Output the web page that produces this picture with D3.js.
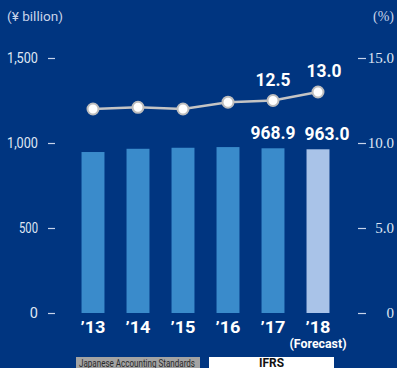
<!DOCTYPE html>
<html><head><meta charset="utf-8">
<script src="https://cdn.jsdelivr.net/npm/d3@7"></script>
<style>
html,body{margin:0;padding:0;background:#003580;}
svg{display:block;}
</style></head>
<body>
<script>
const years = ["’13","’14","’15","’16","’17","’18"];
const revenue = [947, 966, 972, 976, 968.9, 963.0];
const margin = [12.0, 12.1, 12.0, 12.4, 12.5, 13.0];
const leftTicks = [0, 500, 1000, 1500];
const rightTicks = [0, 5, 10, 15];
const revenueLabels = ["", "", "", "", "968.9", "963.0"];
const marginLabels = ["", "", "", "", "12.5", "13.0"];

const W = 397, H = 368;
const font = "Roboto,'Liberation Sans',sans-serif";
const svg = d3.select("body").append("svg").attr("width", W).attr("height", H);
svg.append("rect").attr("width", W).attr("height", H).attr("fill", "#003580");

const x = d3.scaleBand().domain(years).range([70.5, 340.5]).paddingInner(0.49).paddingOuter(0.245);
const yL = d3.scaleLinear().domain([0, 1500]).range([313, 58]);
const yR = d3.scaleLinear().domain([0, 15]).range([313, 58]);

// left axis
const la = svg.append("g").attr("transform", "translate(55,0)")
  .call(d3.axisLeft(yL).tickValues(leftTicks).tickSize(7).tickPadding(10).tickFormat(d3.format(",")));
la.select(".domain").remove();
la.selectAll("line").attr("stroke", "#c8d4ea").attr("stroke-width", 1.2);
la.selectAll("text").attr("fill", "#dfe6f3").style("font-family", font).style("font-size", "14.5px")
  .each(function(d){ const s = d3.format(",")(d); if (s.length > 1) d3.select(this).attr("textLength", s.length === 3 ? 19 : 31).attr("lengthAdjust","spacingAndGlyphs"); });

// right axis
const ra = svg.append("g").attr("transform", "translate(358,0)")
  .call(d3.axisRight(yR).tickValues(rightTicks).tickSize(8).tickPadding(5).tickFormat(d => d === 0 ? "0" : d3.format(".1f")(d)));
ra.select(".domain").remove();
ra.selectAll("line").attr("stroke", "#c8d4ea").attr("stroke-width", 1.2);
ra.selectAll("text").attr("fill", "#dfe6f3").style("font-family", "'Liberation Serif','DejaVu Serif',serif").style("font-size", "15px").attr("text-anchor","end").attr("x", 36);

svg.append("text").attr("x", 7).attr("y", 21).text("(¥ billion)")
  .attr("textLength", 56).attr("lengthAdjust", "spacingAndGlyphs")
  .attr("fill", "#c8d4ea").style("font-family", font).style("font-size", "13px");
svg.append("text").attr("x", 394).attr("y", 21).attr("text-anchor", "end").text("(%)")
  .attr("fill", "#c8d4ea").style("font-family", "'Liberation Serif',serif").style("font-size", "14px");

// bars
svg.selectAll("rect.bar").data(revenue).enter().append("rect").attr("class", "bar")
  .attr("x", (d, i) => x(years[i])).attr("width", x.bandwidth())
  .attr("y", d => yL(d)).attr("height", d => yL(0) - yL(d))
  .attr("fill", (d, i) => i === 5 ? "#a9c3e8" : "#3a8bcb");

const cx = i => x(years[i]) + x.bandwidth() / 2;

// bar labels
revenue.forEach((d, i) => {
  if (!revenueLabels[i]) return;
  svg.append("text").attr("x", cx(i) + (i === 5 ? 9 : 0)).attr("y", yL(d) - 9).attr("text-anchor", "middle")
    .text(revenueLabels[i]).attr("textLength", 45).attr("lengthAdjust", "spacingAndGlyphs")
    .attr("fill", "#fff").style("font-family", font).style("font-weight", "bold").style("font-size", "18px");
});

// line
svg.append("path").datum(margin)
  .attr("d", d3.line().x((d, i) => cx(i)).y(d => yR(d)))
  .attr("fill", "none").attr("stroke", "#c4c4c4").attr("stroke-width", 2.5);
svg.selectAll("circle").data(margin).enter().append("circle")
  .attr("cx", (d, i) => cx(i)).attr("cy", d => yR(d)).attr("r", 5.5)
  .attr("fill", "#fff").attr("stroke", "#bdbdbd").attr("stroke-width", 2);
margin.forEach((d, i) => {
  if (marginLabels[i]) svg.append("text").attr("x", cx(i) + (i === 5 ? 6 : 0)).attr("y", yR(d) - 15)
    .attr("text-anchor", "middle").text(marginLabels[i]).attr("textLength", 35).attr("lengthAdjust", "spacingAndGlyphs")
    .attr("fill", "#fff").style("font-family", font).style("font-weight", "bold").style("font-size", "18px");
});

// x labels
years.forEach((y, i) => {
  svg.append("text").attr("x", cx(i)).attr("y", 333).attr("text-anchor", "middle").text(y)
    .attr("textLength", 25).attr("lengthAdjust", "spacingAndGlyphs")
    .attr("fill", "#fff").style("font-family", font).style("font-weight", "bold").style("font-size", "17px");
});
svg.append("text").attr("x", cx(5)).attr("y", 348).attr("text-anchor", "middle").text("(Forecast)")
  .attr("textLength", 57).attr("lengthAdjust", "spacingAndGlyphs")
  .attr("fill", "#fff").style("font-family", font).style("font-weight", "bold").style("font-size", "12px");

// legend
svg.append("rect").attr("x", 76).attr("y", 357).attr("width", 124).attr("height", 12).attr("fill", "#a3a3a3");
svg.append("text").attr("x", 137).attr("y", 366.5).attr("text-anchor", "middle").text("Japanese Accounting Standards")
  .attr("textLength", 116).attr("lengthAdjust", "spacingAndGlyphs")
  .attr("fill", "#2a2a2a").style("font-family", font).style("font-size", "11px");
svg.append("rect").attr("x", 209).attr("y", 357).attr("width", 125).attr("height", 12).attr("fill", "#ffffff");
svg.append("text").attr("x", 271.5).attr("y", 367).attr("text-anchor", "middle").text("IFRS")
  .attr("textLength", 25).attr("lengthAdjust", "spacingAndGlyphs")
  .attr("fill", "#111").style("font-family", font).style("font-weight", "bold").style("font-size", "12px");
</script>
</body></html>
